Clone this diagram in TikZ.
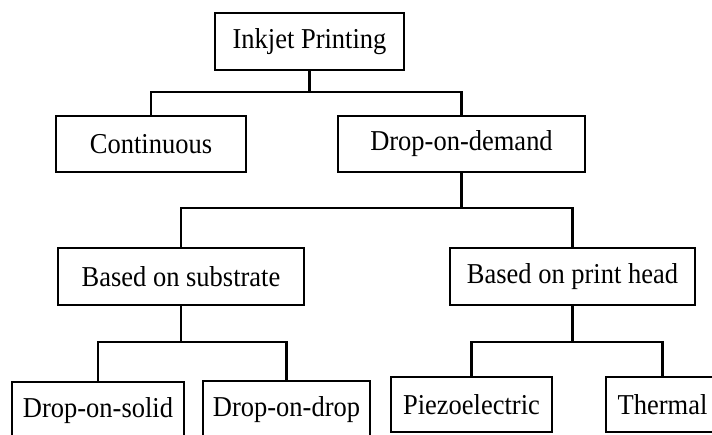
\documentclass[tikz,border=0pt]{standalone}
\usepackage{fontspec}
\setmainfont{Liberation Serif}[FakeStretch=0.92]
\begin{document}
\begin{tikzpicture}[x=1pt,y=-1pt,
  box/.style={draw=black,line width=2.8pt,rectangle,inner sep=0pt,
    font=\fontsize{28.8}{32}\selectfont,text=black},
  link/.style={draw=black,line width=2.8pt,line join=miter}]
  % page frame
  \useasboundingbox (0,0) rectangle (712,434);
  \clip (0,0) rectangle (712,434);
  \fill[white] (0,0) rectangle (712,434);

  % level 0
  \node[box,minimum width=189pt,minimum height=57pt] (ink) at (309.5,41.5) {Inkjet Printing};
  % level 1
  \node[box,minimum width=190pt,minimum height=56pt] (cont) at (151,144) {Continuous};
  \node[box,minimum width=247pt,minimum height=56pt] (dod) at (461.5,144) {Drop-on-demand};
  % level 2
  \node[box,minimum width=246pt,minimum height=57pt] (sub) at (181,276.5) {Based on substrate};
  \node[box,minimum width=245pt,minimum height=57pt] (head) at (572.5,276.5) {Based on print head};
  % level 3
  \node[box,minimum width=172pt,minimum height=57pt] (solid) at (98,410.5) {Drop-on-solid};
  \node[box,minimum width=167pt,minimum height=58pt] (drop) at (286.5,410) {Drop-on-drop};
  \node[box,minimum width=161pt,minimum height=55pt] (piezo) at (471.5,404.5) {Piezoelectric};
  \node[box,minimum width=113pt,minimum height=55pt] (therm) at (662.5,404.5) {Thermal};

  % heights of the horizontal bars
  \coordinate (barA) at (0,92);
  \coordinate (barB) at (0,208);
  \coordinate (barC) at (0,342);

  % tree connectors
  \draw[link] (ink.south) -- (ink.south |- barA);
  \draw[link] (cont.north) |- (ink.south |- barA) -| (dod.north);

  \draw[link] (dod.south) -- (dod.south |- barB);
  \draw[link] (sub.north) |- (dod.south |- barB) -| (head.north);

  \draw[link] (sub.south) -- (sub.south |- barC);
  \draw[link] (solid.north) |- (sub.south |- barC) -| (drop.north);

  \draw[link] (head.south) -- (head.south |- barC);
  \draw[link] (piezo.north) |- (head.south |- barC) -| (therm.north);
\end{tikzpicture}
\end{document}
